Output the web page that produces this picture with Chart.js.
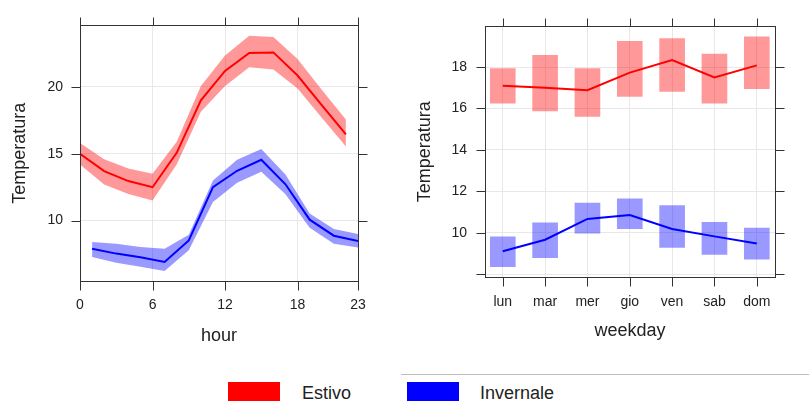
<!DOCTYPE html>
<html>
<head>
<meta charset="utf-8">
<script src="https://cdn.jsdelivr.net/npm/chart.js@4.4.1/dist/chart.umd.min.js"></script>
<style>
  html, body { margin: 0; padding: 0; background: #fff; width: 809px; height: 402px; overflow: hidden; }
  #c1 { position: absolute; left: 0; top: 0; }
  #c2 { position: absolute; left: 400px; top: 0; }
  .sep { position: absolute; left: 401px; top: 374px; width: 408px; height: 1px; background: #bdbdbd; }
  .key { position: absolute; top: 382px; width: 52px; height: 19px; }
  .lab { position: absolute; top: 382px; font: 18px "Liberation Sans", Arial, sans-serif; color: #222; line-height: 22px; }
</style>
</head>
<body>
<canvas id="c1" width="400" height="360"></canvas>
<canvas id="c2" width="409" height="360"></canvas>
<div class="sep"></div>
<div class="key" style="left:228px;background:#ff0000;"></div>
<div class="lab" style="left:302px;">Estivo</div>
<div class="key" style="left:407px;background:#0000ff;"></div>
<div class="lab" style="left:480px;">Invernale</div>
<script>
// ---- Data: hourly panel ----
const redHours  = [0, 2, 4, 6, 8, 10, 12, 14, 16, 18, 20, 22];
const redMean   = [15.0, 13.7, 12.96, 12.5, 15.07, 19.0, 21.2, 22.54, 22.59, 20.86, 18.65, 16.45];
const redUpper  = [15.8, 14.6, 13.9, 13.5, 15.9, 20.07, 22.35, 23.83, 23.75, 22.1, 19.8, 17.56];
const redLower  = [14.2, 12.7, 12.0, 11.5, 14.2, 18.15, 20.07, 21.48, 21.31, 19.88, 17.7, 15.55];
const blueHours = [1, 3, 5, 7, 9, 11, 13, 15, 17, 19, 21, 23];
const blueMean  = [7.9, 7.53, 7.26, 6.91, 8.52, 12.5, 13.73, 14.55, 12.72, 10.07, 8.87, 8.47];
const blueUpper = [8.4, 8.27, 8.02, 7.9, 8.95, 13.0, 14.55, 15.35, 13.46, 10.54, 9.38, 9.0];
const blueLower = [7.28, 6.84, 6.54, 6.22, 7.78, 11.4, 12.84, 13.65, 11.98, 9.46, 8.27, 7.98];
const hourTicks = [0, 6, 12, 18, 23];
const tempTicksL = [10, 15, 20];

// ---- Data: weekday panel ----
const weekdays = ['lun', 'mar', 'mer', 'gio', 'ven', 'sab', 'dom'];
const estMean = [17.1, 17.0, 16.88, 17.73, 18.34, 17.5, 18.08];
const estLow  = [16.26, 15.88, 15.62, 16.58, 16.82, 16.26, 16.96];
const estHigh = [17.92, 18.57, 17.92, 19.24, 19.37, 18.62, 19.46];
const invMean = [9.11, 9.67, 10.67, 10.86, 10.19, 9.83, 9.49];
const invLow  = [8.37, 8.8, 9.99, 10.2, 9.3, 8.96, 8.73];
const invHigh = [9.81, 10.48, 11.44, 11.64, 11.32, 10.51, 10.23];
const tempTicksR = [8, 10, 12, 14, 16, 18];

const FONT = '"Liberation Sans", Arial, sans-serif';
const RED = '#ff0000', BLUE = '#0000ff';
const RED_A = 'rgba(255,0,0,0.4)', BLUE_A = 'rgba(0,0,255,0.4)';
const GRID = '#e8e8e8', FRAME = '#333333', TXT = '#222222';

function pts(xs, ys) { return xs.map((x, i) => ({ x: x, y: ys[i] })); }

const frame = {
  id: 'frame',
  afterDraw(chart) {
    const { ctx, chartArea: a, scales } = chart;
    const L = Math.round(a.left) + 0.5, R = Math.round(a.right) + 0.5;
    const T = Math.round(a.top) + 0.5, B = Math.round(a.bottom) + 0.5;
    ctx.save();
    ctx.strokeStyle = FRAME;
    ctx.lineWidth = 1;
    ctx.strokeRect(L, T, R - L, B - T);
    ctx.beginPath();
    scales.x.ticks.forEach(t => {
      const p = Math.round(scales.x.getPixelForValue(t.value)) + 0.5;
      ctx.moveTo(p, B); ctx.lineTo(p, B + 9);
      ctx.moveTo(p, T); ctx.lineTo(p, T - 8);
    });
    scales.y.ticks.forEach(t => {
      const p = Math.round(scales.y.getPixelForValue(t.value)) + 0.5;
      ctx.moveTo(L, p); ctx.lineTo(L - 9, p);
      ctx.moveTo(R, p); ctx.lineTo(R + 9, p);
    });
    ctx.stroke();
    ctx.restore();
  }
};

function setTicks(vals) { return s => { s.ticks = vals.map(v => ({ value: v })); }; }

// ---- Left chart ----
new Chart(document.getElementById('c1'), {
  type: 'line',
  data: {
    datasets: [
      { data: pts(redHours, redMean), borderColor: RED, borderWidth: 2, pointRadius: 0, fill: false, order: 0 },
      { data: pts(blueHours, blueMean), borderColor: BLUE, borderWidth: 2, pointRadius: 0, fill: false, order: 0 },
      { data: pts(redHours, redUpper), borderWidth: 0, borderColor: 'rgba(0,0,0,0)', pointRadius: 0, fill: false, order: 1 },
      { data: pts(redHours, redLower), borderWidth: 0, borderColor: 'rgba(0,0,0,0)', pointRadius: 0, fill: '-1', backgroundColor: RED_A, order: 1 },
      { data: pts(blueHours, blueUpper), borderWidth: 0, borderColor: 'rgba(0,0,0,0)', pointRadius: 0, fill: false, order: 1 },
      { data: pts(blueHours, blueLower), borderWidth: 0, borderColor: 'rgba(0,0,0,0)', pointRadius: 0, fill: '-1', backgroundColor: BLUE_A, order: 1 }
    ]
  },
  options: {
    responsive: false, animation: false, devicePixelRatio: 1,
    layout: { padding: { top: 23, right: 42, left: 0, bottom: 0 } },
    plugins: { legend: { display: false }, tooltip: { enabled: false } },
    elements: { line: { tension: 0 } },
    scales: {
      x: {
        type: 'linear', min: 0, max: 23,
        afterBuildTicks: setTicks(hourTicks),
        afterFit: s => { s.height = 79; },
        grid: { color: GRID, drawTicks: false },
        border: { display: false },
        ticks: { padding: 16, color: TXT, font: { family: FONT, size: 14 }, maxRotation: 0 },
        title: { display: true, text: 'hour', color: TXT, font: { family: FONT, size: 18 }, padding: { top: 0, bottom: 13 } }
      },
      y: {
        type: 'linear', min: 5.48, max: 24.61,
        afterBuildTicks: setTicks(tempTicksL),
        afterFit: s => { s.width = 80; },
        grid: { color: GRID, drawTicks: false },
        border: { display: false },
        ticks: { padding: 17, color: TXT, font: { family: FONT, size: 14 } },
        title: { display: true, text: 'Temperatura', color: TXT, font: { family: FONT, size: 18 }, padding: { top: 9, bottom: 0 } }
      }
    }
  },
  plugins: [frame]
});

// ---- Right chart ----
new Chart(document.getElementById('c2'), {
  type: 'bar',
  data: {
    datasets: [
      { type: 'line', data: pts([1,2,3,4,5,6,7], estMean), borderColor: RED, borderWidth: 2, pointRadius: 0, fill: false, order: 0 },
      { type: 'line', data: pts([1,2,3,4,5,6,7], invMean), borderColor: BLUE, borderWidth: 2, pointRadius: 0, fill: false, order: 0 },
      { type: 'bar', data: weekdays.map((d, i) => ({ x: i + 1, y: [estLow[i], estHigh[i]] })), backgroundColor: RED_A, borderWidth: 0, barThickness: 25, grouped: false, order: 1 },
      { type: 'bar', data: weekdays.map((d, i) => ({ x: i + 1, y: [invLow[i], invHigh[i]] })), backgroundColor: BLUE_A, borderWidth: 0, barThickness: 25, grouped: false, order: 1 }
    ]
  },
  options: {
    responsive: false, animation: false, devicePixelRatio: 1,
    layout: { padding: { top: 18, right: 34, left: 0, bottom: 0 } },
    plugins: { legend: { display: false }, tooltip: { enabled: false } },
    elements: { line: { tension: 0 } },
    scales: {
      x: {
        type: 'linear', min: 0.58, max: 7.43, offset: false,
        afterBuildTicks: setTicks([1, 2, 3, 4, 5, 6, 7]),
        afterFit: s => { s.height = 83; },
        grid: { color: GRID, drawTicks: false, offset: false },
        border: { display: false },
        ticks: { padding: 17, color: TXT, font: { family: FONT, size: 14 }, maxRotation: 0,
                 callback: v => weekdays[Math.round(v) - 1] },
        title: { display: true, text: 'weekday', color: TXT, font: { family: FONT, size: 18 }, padding: { top: 0, bottom: 18 } }
      },
      y: {
        type: 'linear', min: 7.87, max: 19.96, beginAtZero: false,
        afterBuildTicks: setTicks(tempTicksR),
        afterFit: s => { s.width = 85; },
        grid: { color: GRID, drawTicks: false },
        border: { display: false },
        ticks: { padding: 18, color: TXT, font: { family: FONT, size: 14 },
                 callback: v => (v === 8 ? '' : String(v)) },
        title: { display: true, text: 'Temperatura', color: TXT, font: { family: FONT, size: 18 }, padding: { top: 14, bottom: 0 } }
      }
    }
  },
  plugins: [frame]
});
</script>
</body>
</html>
